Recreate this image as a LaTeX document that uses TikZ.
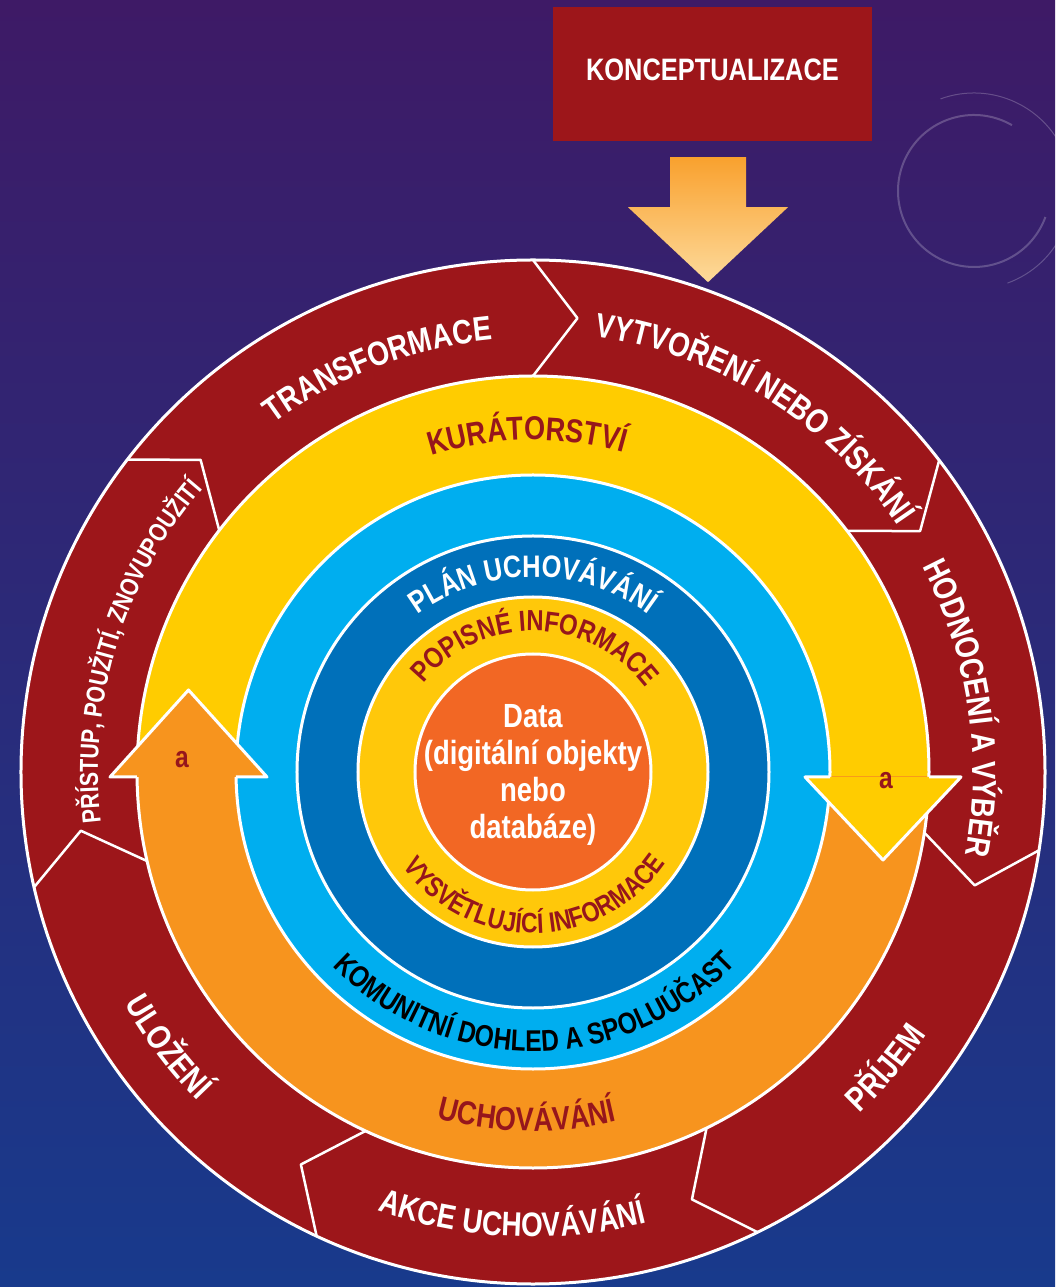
\documentclass[tikz,border=0pt]{standalone}
\usepackage{fontspec}
\newfontfamily\narrowfont{Liberation Sans}[FakeStretch=0.82]
\usetikzlibrary{decorations.text}
\definecolor{ringred}{RGB}{157,22,26}
\definecolor{textred}{RGB}{150,22,28}
\definecolor{kuryellow}{RGB}{255,204,0}
\definecolor{presorange}{RGB}{247,148,30}
\definecolor{lightblue}{RGB}{0,174,239}
\definecolor{darkblue}{RGB}{0,112,186}
\definecolor{infoyellow}{RGB}{255,200,10}
\definecolor{dataorange}{RGB}{242,103,36}
\definecolor{bgtop}{RGB}{62,26,102}
\definecolor{bgmid}{RGB}{42,30,104}
\definecolor{bgbottom}{RGB}{24,58,140}
\definecolor{arrowtop}{RGB}{249,161,46}
\definecolor{arrowbottom}{RGB}{253,218,155}
\newcommand\labfont[1]{\narrowfont\bfseries\fontsize{#1}{#1}\selectfont}
\begin{document}
\begin{tikzpicture}[x=1pt,y=1pt,
  sep/.style={white,line width=3pt,line join=round},
  ringtext/.style={decorate,decoration={text along path,text align=center,text={#1}}},
  conbox/.style={fill=ringred,text=white,minimum width=319pt,minimum height=134pt,inner sep=0pt,text depth=8pt,font=\labfont{31}},
  datatext/.style={text=white,align=center,font=\narrowfont\bfseries\fontsize{33.5}{37}\selectfont},
  alabel/.style={text=textred,font=\labfont{30}},
  deco/.style={white,opacity=0.22,line width=2pt}]
  \shade[top color=bgtop,middle color=bgmid,bottom color=bgbottom] (-533,-515) rectangle (522,772);
  \useasboundingbox (-533,-515) rectangle (522,772);
  \draw[deco] (441,581) ++(60:76pt) arc[start angle=60,end angle=340,radius=76pt];
  \draw[deco,line width=1pt] (441,581) ++(110:98pt) arc[start angle=110,end angle=-70,radius=98pt];

  \fill[ringred] (0,0) circle (512pt);
  \fill[kuryellow] (0,0) circle (396pt);
  \begin{scope}
    \clip (-400,-5) rectangle (400,-400);
    \fill[presorange] (0,0) circle (396pt);
  \end{scope}
  \fill[lightblue] (0,0) circle (297pt);
  \fill[darkblue] (0,0) circle (236pt);
  \fill[infoyellow] (0,0) circle (175pt);
  \fill[dataorange] (0,0) circle (118pt);
  \foreach \r in {512,396,297,236,175,118}
    \draw[sep] (0,0) circle (\r pt);
  \foreach \a in {90,37.5,-8.8,-64,-115,-167,142.4}
    \draw[sep,line width=2.5pt] (\a:512pt) -- ({\a-5.6}:456pt) -- (\a:396pt);

  \fill[kuryellow] (272,-5) -- (428,-5) -- (350,-88) -- cycle;
  \draw[sep] (297,-5) -- (272,-5) -- (350,-88) -- (428,-5) -- (396,-5);
  \fill[presorange] (-423,-5) -- (-266,-5) -- (-344.5,82) -- cycle;
  \draw[sep] (-297,-5) -- (-266,-5) -- (-344.5,82) -- (-423,-5) -- (-396,-5);

  \path[ringtext={|\labfont{34}\color{white}|TRANSFORMACE}] (151:434pt) arc[start angle=151,end angle=71,radius=434pt];
  \path[ringtext={|\labfont{34}\color{white}|VYTVOŘENÍ NEBO ZÍSKÁNÍ}] (100:440pt) arc[start angle=100,end angle=16,radius=440pt];
  \path[ringtext={|\labfont{33.5}\color{white}|HODNOCENÍ A VÝBĚR}] (51:440pt) arc[start angle=51,end angle=-34,radius=440pt];
  \path[ringtext={|\labfont{34}\color{white}|PŘÍJEM}] (-70:473pt) arc[start angle=-70,end angle=-10,radius=473pt];
  \path[ringtext={|\labfont{34}\color{white}|AKCE UCHOVÁVÁNÍ}] (-135:465pt) arc[start angle=-135,end angle=-50.4,radius=465pt];
  \path[ringtext={|\labfont{34}\color{white}|ULOŽENÍ}] (187:470pt) arc[start angle=187,end angle=247,radius=470pt];
  \path[ringtext={|\labfont{26}\color{white}|PŘÍSTUP{,} POUŽITÍ{,} ZNOVUPOUŽITÍ}] (194:435pt) arc[start angle=194,end angle=132,radius=435pt];

  \path[ringtext={|\labfont{33}\color{textred}|KURÁTORSTVÍ}] (131:332pt) arc[start angle=131,end angle=51,radius=332pt];
  \path[ringtext={|\labfont{33}\color{textred}|UCHOVÁVÁNÍ}] (-131:359pt) arc[start angle=-131,end angle=-51,radius=359pt];
  \path[ringtext={|\labfont{30}\color{black}|KOMUNITNÍ DOHLED A SPOLUÚČAST}] (200.4:279pt) arc[start angle=200.4,end angle=340.4,radius=279pt];
  \path[ringtext={|\labfont{31}\color{white}|PLÁN UCHOVÁVÁNÍ}] (160:195pt) arc[start angle=160,end angle=20,radius=195pt];
  \path[ringtext={|\labfont{29}\color{textred}|POPISNÉ INFORMACE}] (165:141pt) arc[start angle=165,end angle=13,radius=141pt];
  \path[ringtext={|\labfont{28}\color{textred}|VYSVĚTLUJÍCÍ INFORMACE}] (195:161pt) arc[start angle=195,end angle=346.4,radius=161pt];

  \node[datatext] (data) at (0,-3) {Data\\(digitální objekty\\nebo\\databáze)};
  \node[alabel] (aleft) at (-351,12) {a};
  \node[alabel] (aright) at (353,-9) {a};

  \node[conbox] (concept) at (179.5,698) {KONCEPTUALIZACE};
  \coordinate (arrtop) at ([xshift=-4.5pt,yshift=-16pt]concept.south);
  \shade[top color=arrowtop,bottom color=arrowbottom] ([xshift=-38pt]arrtop) -- ([xshift=38pt]arrtop) -- ++(0,-50) -- ++(42,0) -- ([yshift=-125pt]arrtop) -- ++(-80,75) -- ++(42,0) -- cycle;
\end{tikzpicture}
\end{document}
